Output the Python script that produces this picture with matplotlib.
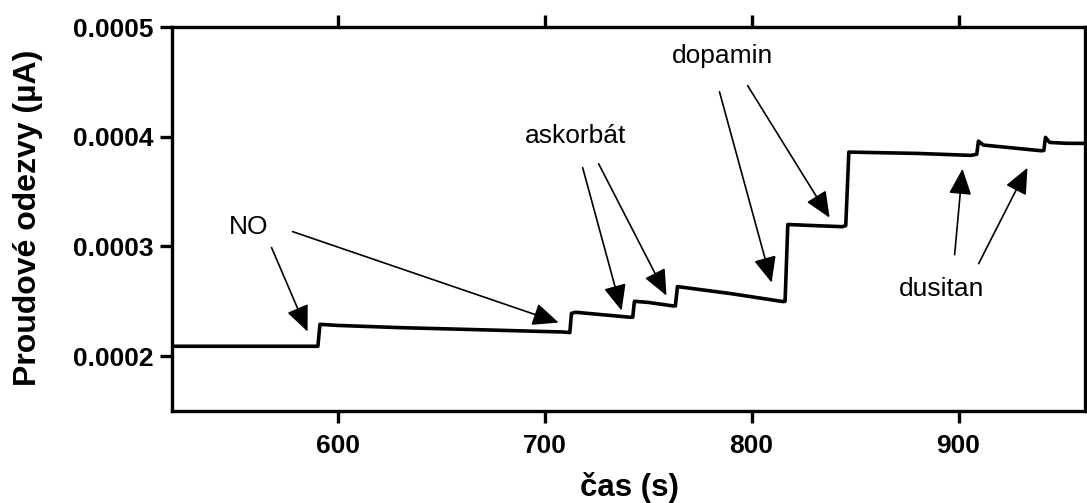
import matplotlib.pyplot as plt

plt.rcParams['font.family'] = ['Liberation Sans', 'DejaVu Sans']

# amperometric trace: time (s) and current
cas_s = [520, 590.5, 591.5, 600, 630, 670, 709, 712.2, 713.0, 715, 741, 742.6, 743.4, 750, 762, 763.2, 764.2,
         790, 815.3, 816.2, 817.5, 830, 843.8, 845.5, 847, 860, 880, 906, 908.8, 909.6, 912, 925, 940,
         941.2, 942, 944, 952, 961]
proud = [0.000209, 0.000209, 0.000229, 0.000228, 0.000226, 0.000224, 0.000222, 0.0002215, 0.000239, 0.000240,
         0.0002355, 0.0002355, 0.000250, 0.000249, 0.0002458, 0.0002458, 0.0002634,
         0.000257, 0.0002497, 0.000250, 0.000320, 0.000319, 0.000318, 0.000319, 0.000386, 0.0003855, 0.0003848,
         0.000383, 0.000384, 0.000396, 0.0003924, 0.000390, 0.0003872, 0.0003875, 0.0003994, 0.0003948,
         0.000394, 0.0003939]

# labels and arrows (tail -> tip)
popisky = ['NO', 'askorbát', 'dopamin', 'dusitan']
popisky_xy = [(557, 0.000318), (715, 0.000401), (786, 0.0004738), (891.8, 0.0002616)]
sipky = [
    [((568.1, 0.000299), (585.5, 0.0002224)), ((578.3, 0.0003135), (706.8, 0.0002306))],
    [((718.4, 0.0003718), (737.2, 0.0002415)), ((726.1, 0.0003754), (758.9, 0.0002552))],
    [((784.5, 0.000441), (809.7, 0.000267)), ((798.1, 0.0004466), (837.7, 0.0003262))],
    [((898.1, 0.0002925), (901.9, 0.0003708)), ((909.7, 0.0002843), (933.3, 0.0003717))],
]

x_ticks = [600, 700, 800, 900]
y_ticks = [0.0002, 0.0003, 0.0004, 0.0005]
y_tick_labels = ['0.0002', '0.0003', '0.0004', '0.0005']

fig = plt.figure(figsize=(10.87, 5.03), dpi=100)
ax = fig.add_axes([0.1582, 0.1829, 0.8398, 0.7634])

ax.plot(cas_s, proud, color='black', lw=2.6, solid_joinstyle='round')

for text, (tx, ty), pair in zip(popisky, popisky_xy, sipky):
    ax.text(tx, ty, text, ha='center', va='center', fontsize=19)
    for tail, tip in pair:
        ax.annotate('', xy=tip, xytext=tail,
                    arrowprops=dict(arrowstyle='-|>,head_length=0.8,head_width=0.35',
                                    mutation_scale=20, lw=1.2, color='black',
                                    shrinkA=0, shrinkB=0))

ax.set_xlim(520, 961)
ax.set_ylim(0.00015, 0.0005)
ax.set_xticks(x_ticks)
ax.set_yticks(y_ticks)
ax.set_yticklabels(y_tick_labels)

for s in ax.spines.values():
    s.set_linewidth(2.4)
ax.tick_params(axis='both', direction='out', length=8.5, width=2.4, labelsize=19, pad=5)
ax.tick_params(axis='x', top=True, labeltop=False, pad=8)
for lab in ax.get_xticklabels() + ax.get_yticklabels():
    lab.set_fontweight('bold')

ax.set_xlabel('čas (s)', fontsize=22.5, fontweight='bold')
ax.set_ylabel('Proudové odezvy (µA)', fontsize=23, fontweight='bold')
ax.xaxis.set_label_coords(0.5016, -0.159)
ax.yaxis.set_label_coords(-0.141, 0.504)

fig.savefig('out.png', dpi=100)
